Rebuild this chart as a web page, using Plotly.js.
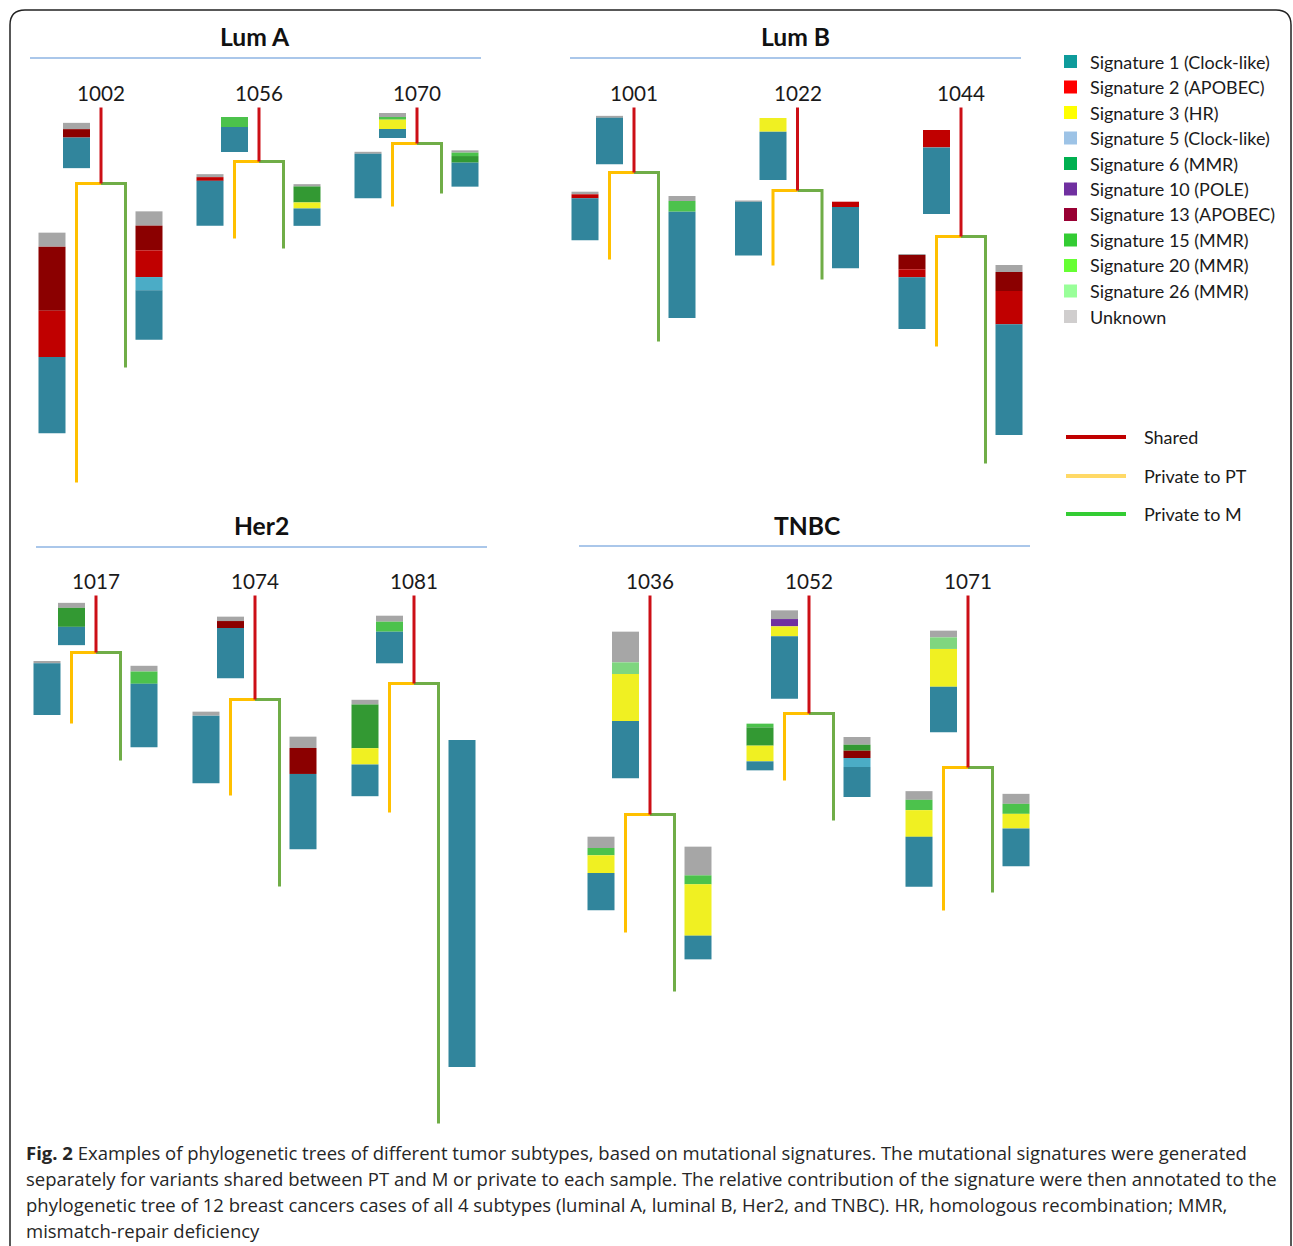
<!DOCTYPE html>
<html>
<head>
<meta charset="utf-8">
<script src="https://cdn.plot.ly/plotly-3.0.1.min.js"></script>
<style>html,body{margin:0;padding:0;background:#fff;}#chart{width:1293px;height:1246px;}</style>
</head>
<body>
<div id="chart"></div>
<script>
// ---------------- DATA ----------------
const subtypes = ['Lum A', 'Lum B', 'Her2', 'TNBC'];
const cases    = ['1002','1056','1070','1001','1022','1044','1017','1074','1081','1036','1052','1071'];
const caseSubtype = [0,0,0,1,1,1,2,2,2,3,3,3];

// branch lengths (number of variants, arbitrary units)
const trunkLen = [76, 54, 36, 65, 83, 129, 57, 104, 88, 219, 118, 172];
const ptLen    = [299, 77, 63, 87, 75, 110, 71, 96, 129, 118, 67, 143];
const mLen     = [184, 87, 50, 169, 89, 227, 108, 187, 440, 177, 107, 125];

const sigKeys  = ['s1','s2','s3','s5','s6','s10','s13','s15','s20','s26','unk'];
const sigNames = ['Signature 1 (Clock-like)','Signature 2 (APOBEC)','Signature 3 (HR)','Signature 5 (Clock-like)',
                  'Signature 6 (MMR)','Signature 10 (POLE)','Signature 13 (APOBEC)','Signature 15 (MMR)',
                  'Signature 20 (MMR)','Signature 26 (MMR)','Unknown'];
const branchNames = ['Shared','Private to PT','Private to M'];

// signature contributions per branch (same order as cases)
const sharedSig = {
  s1:  [30.6, 25, 9, 46.3, 48.3, 66.6, 18.3, 50.3, 31.6, 57.3, 62.3, 45.7],
  s2:  [0, 0, 0, 0, 0, 17.4, 0, 0, 0, 0, 0, 0],
  s3:  [0, 0, 9.3, 0, 13.7, 0, 0, 0, 0, 47, 10, 37.7],
  s5:  [0, 0, 0, 0, 0, 0, 0, 0, 0, 0, 0, 0],
  s6:  [0, 0, 0, 0, 0, 0, 19, 0, 0, 0, 0, 0],
  s10: [0, 0, 0, 0, 0, 0, 0, 0, 0, 0, 7.3, 0],
  s13: [8.4, 0, 0, 0, 0, 0, 0, 7, 0, 0, 0, 0],
  s15: [0, 10, 2.7, 0, 0, 0, 0, 0, 10, 0, 0, 0],
  s20: [0, 0, 0, 0, 0, 0, 0, 0, 0, 0, 0, 0],
  s26: [0, 0, 0, 0, 0, 0, 0, 0, 0, 11.7, 0, 11.6],
  unk: [6.3, 0, 4, 2, 0, 0, 5, 4.4, 6, 30.7, 8.7, 6.7]
};
const ptSig = {
  s1:  [76.4, 45, 44.4, 42, 53.7, 51.7, 51.7, 67.7, 31.7, 37.3, 9, 50],
  s2:  [46.3, 3.7, 0, 4, 0, 8, 0, 0, 0, 0, 0, 0],
  s3:  [0, 0, 0, 0, 0, 0, 0, 0, 16.3, 17.7, 15.7, 26.7],
  s5:  [0, 0, 0, 0, 0, 0, 0, 0, 0, 0, 0, 0],
  s6:  [0, 0, 0, 0, 0, 0, 0, 0, 43.7, 0, 18.3, 0],
  s10: [0, 0, 0, 0, 0, 0, 0, 0, 0, 0, 0, 0],
  s13: [64, 0, 0, 0, 0, 14.3, 0, 0, 0, 0, 0, 0],
  s15: [0, 0, 0, 0, 0, 0, 0, 0, 0, 7.3, 3.7, 10.3],
  s20: [0, 0, 0, 0, 0, 0, 0, 0, 0, 0, 0, 0],
  s26: [0, 0, 0, 0, 0, 0, 0, 0, 0, 0, 0, 0],
  unk: [14, 3, 2, 2.6, 1.3, 1, 2.3, 4, 4.7, 11.3, 0, 8.7]
};
const mSig = {
  s1:  [49.3, 17.4, 24, 106.3, 61.3, 110.7, 63.4, 75.4, 327, 23.7, 30, 37.7],
  s2:  [26.7, 0, 0, 0, 5.3, 33.3, 0, 0, 0, 0, 0, 0],
  s3:  [0, 6, 0, 0, 0, 0, 0, 0, 0, 51.3, 0, 14.6],
  s5:  [13.3, 0, 0, 0, 0, 0, 0, 0, 0, 0, 9, 0],
  s6:  [0, 16, 6.6, 0, 0, 0, 0, 0, 0, 0, 6, 0],
  s10: [0, 0, 0, 0, 0, 0, 0, 0, 0, 0, 0, 0],
  s13: [24.7, 0, 0, 0, 0, 19, 0, 26, 0, 0, 7.3, 0],
  s15: [0, 0, 3.4, 10.7, 0, 0, 12.3, 0, 0, 9, 0, 10],
  s20: [0, 0, 0, 0, 0, 0, 0, 0, 0, 0, 0, 0],
  s26: [0, 0, 0, 0, 0, 0, 0, 0, 0, 0, 0, 0],
  unk: [14.3, 2.3, 2.3, 5, 0, 7, 5.7, 11.3, 0, 28.7, 7.7, 10]
};

const captionLines = [
  ['Fig. 2', ' Examples of phylogenetic trees of different tumor subtypes, based on mutational signatures. The mutational signatures were generated'],
  ['', 'separately for variants shared between PT and M or private to each sample. The relative contribution of the signature were then annotated to the'],
  ['', 'phylogenetic tree of 12 breast cancers cases of all 4 subtypes (luminal A, luminal B, Her2, and TNBC). HR, homologous recombination; MMR,'],
  ['', 'mismatch-repair deficiency']
];

// ---------------- STYLE / LAYOUT ----------------
const W = 1293, H = 1246;
const barColor = {s1:'#31859C', s2:'#C00000', s3:'#F0F022', s5:'#4BACC6', s6:'#339933', s10:'#7030A0',
                  s13:'#8B0000', s15:'#4CC24C', s20:'#66FF33', s26:'#7FD67F', unk:'#A6A6A6'};
const legColor = {s1:'#0E9B9B', s2:'#FF0000', s3:'#FFFF00', s5:'#9DC3E6', s6:'#00B050', s10:'#7030A0',
                  s13:'#990033', s15:'#33CC33', s20:'#66FF33', s26:'#99FF99', unk:'#D0CECE'};
const lineColor = ['#CC0F16', '#FFC000', '#70AD47'];
const lineLegColor = ['#C00000', '#FFD966', '#33CC33'];
// stacking order, top of the bar first
const stackOrder = ['unk','s26','s20','s15','s6','s10','s13','s2','s3','s5','s1'];

const panelGeom = [
  {c0:101, s:158,   top:107.5, tx:255, ty:36,  r:[30, 481, 58]},
  {c0:634, s:163.5, top:107.5, tx:795, ty:36,  r:[570, 1021, 58]},
  {c0:96,  s:159,   top:595.5, tx:261, ty:525, r:[36, 487, 547]},
  {c0:650, s:159,   top:595.5, tx:807, ty:525, r:[579, 1030, 546]}
];
const forkHalf = 24.5, barW = 27, offShared = -24.5, offPT = -49, offM = 48, labelGap = 15;

const FONT = 'Lato, "Open Sans", sans-serif';
const CAPFONT = '"Open Sans", Lato, sans-serif';
const cv = document.createElement('canvas').getContext('2d');
function mw(t, wgt, fam){ cv.font = wgt + ' 100px ' + fam; return cv.measureText(t).width; }
function fit(t, wgt, fam, target){ return 100 * target / mw(t, wgt, fam); }

const capSize = 100 * 1222 / (mw(captionLines[0][0], 'bold', CAPFONT) + mw(captionLines[0][1], 'normal', CAPFONT));
const legSize = fit('Signature 13 (APOBEC)', 'normal', FONT, 185);
const titleSize = fit('Lum A', 'bold', FONT, 70);
const labSize = fit('1002', 'normal', FONT, 48);

const px = x => x / W, py = y => 1 - y / H;

const traces = [];
const layout = {
  width: W, height: H, margin:{l:0,r:0,t:0,b:0}, paper_bgcolor:'#fff', plot_bgcolor:'rgba(0,0,0,0)',
  showlegend:false, barmode:'overlay', shapes:[], annotations:[], hovermode:false
};

panelGeom.forEach((g, p) => {
  const sx = p ? String(p + 1) : '';
  const xa = 'x' + sx, ya = 'y' + sx;
  layout['xaxis' + sx] = {domain:[0,1], range:[-g.c0 / g.s, (W - g.c0) / g.s], visible:false, fixedrange:true, anchor:ya};
  layout['yaxis' + sx] = {domain:[0,1], range:[H - g.top, -g.top], visible:false, fixedrange:true, anchor:xa};

  const idx = caseSubtype.map((s, i) => s === p ? i : -1).filter(i => i >= 0);
  const f = forkHalf / g.s;
  const lx = [[],[],[]], ly = [[],[],[]];
  const barData = {};
  stackOrder.forEach(k => barData[k] = {x:[], y:[], base:[]});

  idx.forEach((i, k) => {
    const T = trunkLen[i], P = ptLen[i], M = mLen[i];
    lx[0].push(k, k, null);         ly[0].push(0, T, null);
    lx[1].push(k, k - f, k - f, null); ly[1].push(T, T, T + P, null);
    lx[2].push(k, k + f, k + f, null); ly[2].push(T, T, T + M, null);

    const branches = [
      {sig:sharedSig, a:0, b:T,     x:k + offShared / g.s},
      {sig:ptSig,     a:T, b:T + P, x:k + offPT / g.s},
      {sig:mSig,      a:T, b:T + M, x:k + offM / g.s}
    ];
    branches.forEach(br => {
      const total = stackOrder.reduce((acc, key) => acc + br.sig[key][i], 0);
      let cur = (br.a + br.b) / 2 - total / 2;
      stackOrder.forEach(key => {
        const v = br.sig[key][i];
        if (v > 0) { barData[key].x.push(br.x); barData[key].y.push(v); barData[key].base.push(cur); cur += v; }
      });
    });

    layout.annotations.push({xref:xa, yref:ya, x:k, y:-labelGap, text:cases[i], showarrow:false,
      xanchor:'center', yanchor:'middle', font:{family:FONT, size:labSize, color:'#1a1a1a'}});
  });

  stackOrder.forEach(key => {
    const d = barData[key];
    if (!d.x.length) return;
    traces.push({type:'bar', xaxis:xa, yaxis:ya, x:d.x, y:d.y, base:d.base, width:barW / g.s,
      marker:{color:barColor[key], line:{width:0}}, hoverinfo:'skip', name:sigNames[sigKeys.indexOf(key)]});
  });
  [1, 2, 0].forEach(b => {
    traces.push({type:'scatter', mode:'lines', xaxis:xa, yaxis:ya, x:lx[b], y:ly[b],
      line:{color:lineColor[b], width:3}, hoverinfo:'skip', name:branchNames[b]});
  });

  layout.annotations.push({xref:'paper', yref:'paper', x:px(g.tx), y:py(g.ty), text:'<b>' + subtypes[p] + '</b>',
    showarrow:false, xanchor:'center', yanchor:'middle', font:{family:FONT, size:titleSize, color:'#111'}});
  layout.shapes.push({type:'line', xref:'paper', yref:'paper', x0:px(g.r[0]), x1:px(g.r[1]), y0:py(g.r[2]), y1:py(g.r[2]),
    line:{color:'#8EB4E3', width:1.5}});
});

// signature legend
sigKeys.forEach((key, j) => {
  const yc = 61.5 + j * 25.5;
  layout.shapes.push({type:'rect', xref:'paper', yref:'paper', x0:px(1064), x1:px(1077), y0:py(yc - 6.5), y1:py(yc + 6.5),
    fillcolor:legColor[key], line:{width:0}});
  layout.annotations.push({xref:'paper', yref:'paper', x:px(1088), y:py(yc), text:sigNames[j], showarrow:false,
    xanchor:'left', yanchor:'middle', font:{family:FONT, size:legSize, color:'#1a1a1a'}});
});
// branch legend
branchNames.forEach((nm, j) => {
  const yc = [437, 476, 514][j];
  layout.shapes.push({type:'line', xref:'paper', yref:'paper', x0:px(1066), x1:px(1126), y0:py(yc), y1:py(yc),
    line:{color:lineLegColor[j], width:4}});
  layout.annotations.push({xref:'paper', yref:'paper', x:px(1142), y:py(yc), text:nm, showarrow:false,
    xanchor:'left', yanchor:'middle', font:{family:FONT, size:legSize, color:'#1a1a1a'}});
});

// frame
const fr = 15;
layout.shapes.push({type:'path', xref:'paper', yref:'paper', line:{color:'#222', width:1.5},
  path:`M ${px(10)},${py(1300)} L ${px(10)},${py(10 + fr)} Q ${px(10)},${py(10)} ${px(10 + fr)},${py(10)} ` +
       `L ${px(1291 - fr)},${py(10)} Q ${px(1291)},${py(10)} ${px(1291)},${py(10 + fr)} L ${px(1291)},${py(1300)}`});

// caption
captionLines.forEach((ln, j) => {
  const txt = (ln[0] ? '<b>' + ln[0] + '</b>' : '') + ln[1];
  layout.annotations.push({xref:'paper', yref:'paper', x:px(24), y:py(1152 + j * 26), text:txt, showarrow:false,
    xanchor:'left', yanchor:'middle', font:{family:CAPFONT, size:capSize, color:'#262626'}});
});

Plotly.newPlot('chart', traces, layout, {staticPlot:true, displayModeBar:false});
</script>
</body>
</html>
